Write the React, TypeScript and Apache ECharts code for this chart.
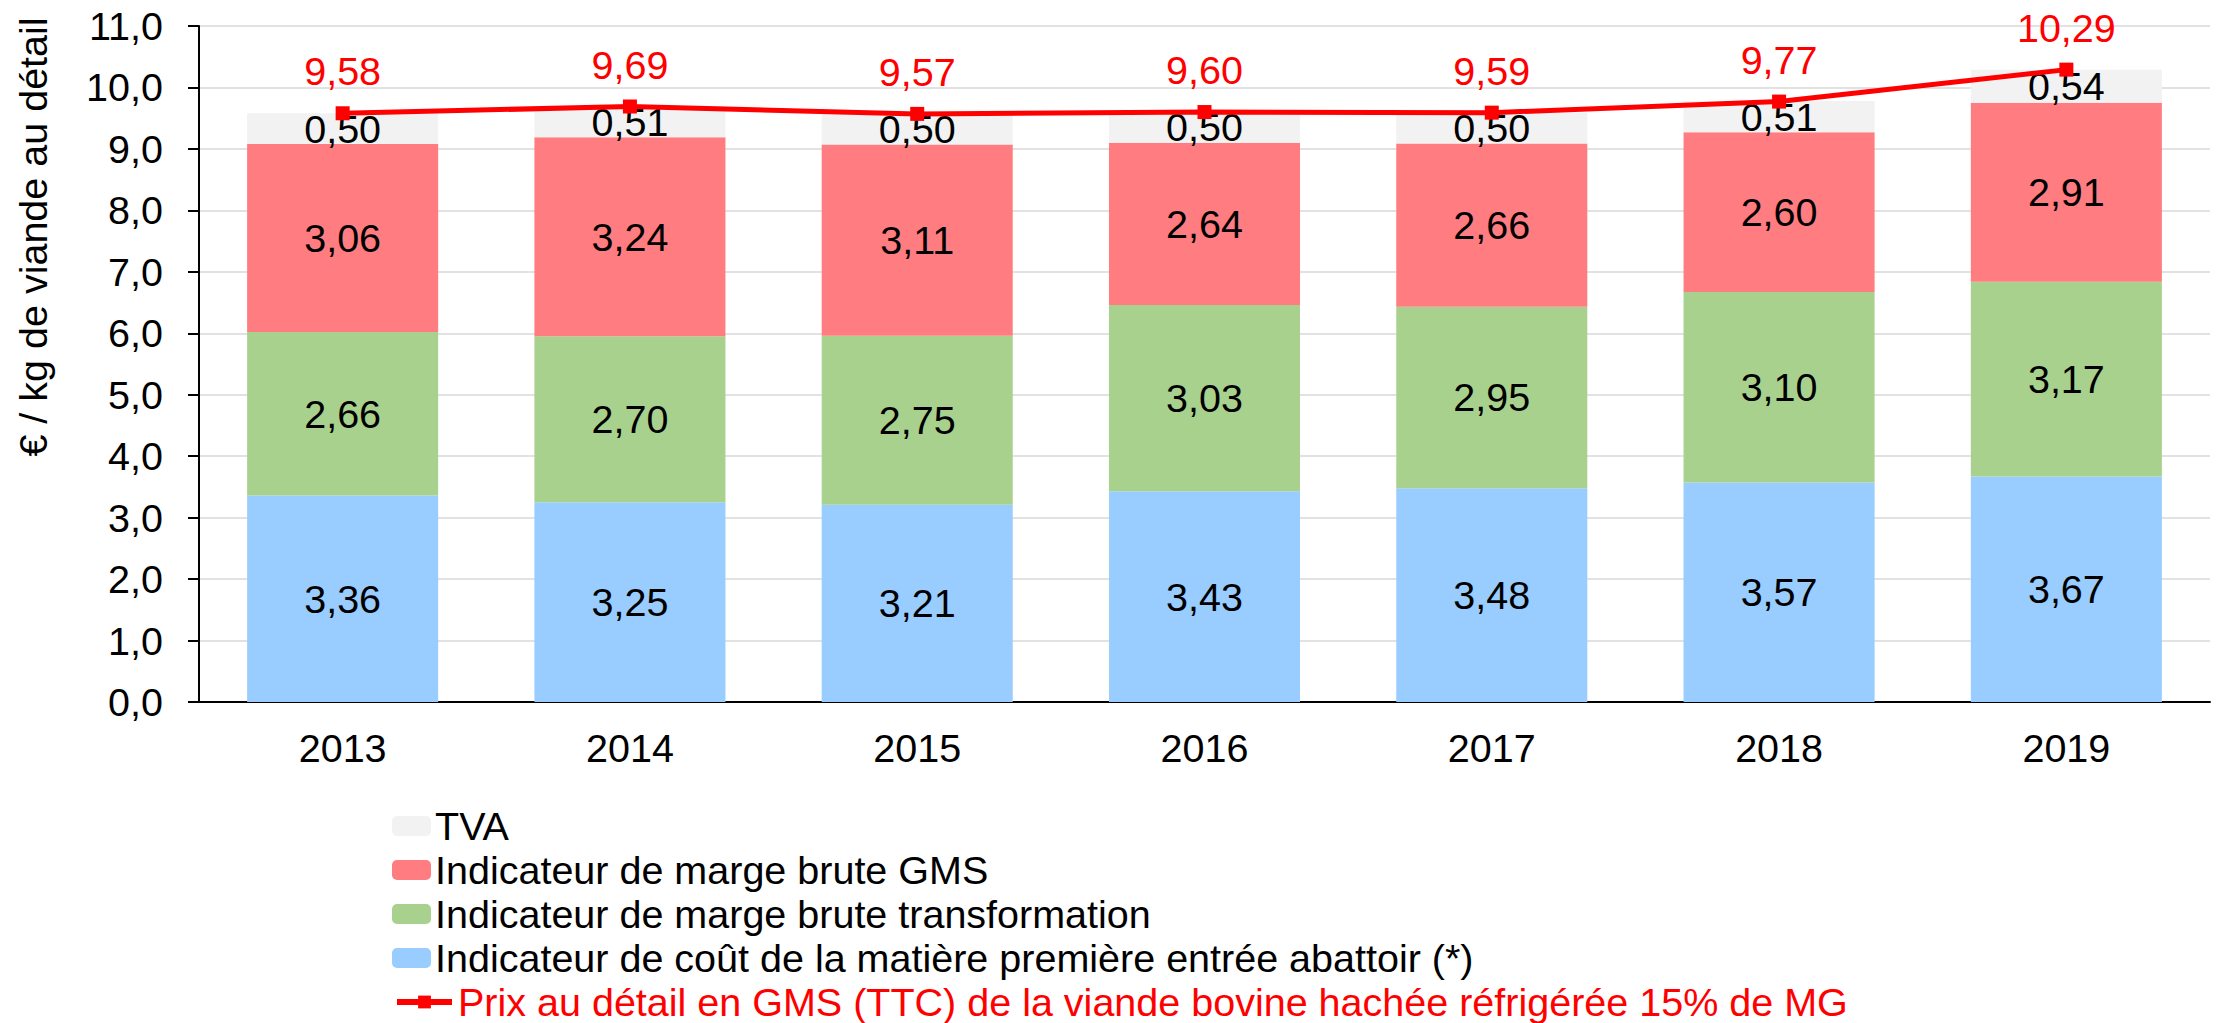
import React, { useEffect, useRef } from "react";
import * as echarts from "echarts";

const years = ["2013", "2014", "2015", "2016", "2017", "2018", "2019"];
const coutMatiere = [3.36, 3.25, 3.21, 3.43, 3.48, 3.57, 3.67];
const margeTransformation = [2.66, 2.7, 2.75, 3.03, 2.95, 3.1, 3.17];
const margeGMS = [3.06, 3.24, 3.11, 2.64, 2.66, 2.6, 2.91];
const tva = [0.5, 0.51, 0.5, 0.5, 0.5, 0.51, 0.54];
const prixDetail = [9.58, 9.69, 9.57, 9.6, 9.59, 9.77, 10.29];

const NAME_TVA = "TVA";
const NAME_GMS = "Indicateur de marge brute GMS";
const NAME_TRANS = "Indicateur de marge brute transformation";
const NAME_COUT = "Indicateur de coût de la matière première entrée abattoir (*)";
const NAME_PRIX = "Prix au détail en GMS (TTC) de la viande bovine hachée réfrigérée 15% de MG";

const FONT = "'Liberation Sans', Arial, Helvetica, sans-serif";
const FS = 39.5;

const fmt2 = (v: number) => v.toFixed(2).replace(".", ",");
const fmt1 = (v: number) => v.toFixed(1).replace(".", ",");

export default function App() {
  const ref = useRef<HTMLDivElement>(null);
  useEffect(() => {
    if (!ref.current) return;
    const chart = echarts.init(ref.current, null, { renderer: "svg" });
    const barLabel = {
      show: true,
      position: "inside",
      color: "#000000",
      fontSize: FS,
      fontFamily: FONT,
      formatter: (p: any) => fmt2(p.value),
    };
    const mkBar = (name: string, data: number[], color: string) => ({
      name,
      type: "bar",
      stack: "total",
      data,
      barWidth: "66.5%",
      itemStyle: { color },
      label: barLabel,
      z: 2,
    });
    chart.setOption({
      animation: false,
      textStyle: { fontFamily: FONT },
      grid: { left: 199, right: 12, top: 26, bottom: 321, containLabel: false },
      legend: [
        {
          orient: "vertical",
          left: 392,
          top: 804,
          padding: 0,
          itemGap: 0,
          itemWidth: 39,
          itemHeight: 20,
          selectedMode: false,
          textStyle: { fontSize: FS, fontFamily: FONT, color: "#000000", lineHeight: 44, padding: [0, 0, 0, -1] },
          data: [NAME_TVA, NAME_GMS, NAME_TRANS, NAME_COUT],
        },
        {
          orient: "vertical",
          left: 394,
          top: 980,
          padding: 0,
          itemGap: 0,
          itemWidth: 55,
          itemHeight: 16,
          selectedMode: false,
          lineStyle: { width: 6, color: "#FF0000" },
          textStyle: { fontSize: FS, fontFamily: FONT, color: "#FF0000", lineHeight: 44, padding: [0, 0, 0, 1] },
          data: [NAME_PRIX],
        },
      ],
      xAxis: {
        type: "category",
        data: years,
        axisLine: { show: true, lineStyle: { color: "#000000", width: 2 } },
        axisTick: { show: false },
        axisLabel: { fontSize: FS, fontFamily: FONT, color: "#000000", margin: 26 },
        splitLine: { show: false },
      },
      yAxis: {
        type: "value",
        min: 0,
        max: 11,
        interval: 1,
        axisLine: { show: true, lineStyle: { color: "#000000", width: 2 } },
        axisTick: { show: true, length: 11, lineStyle: { color: "#000000", width: 2 } },
        axisLabel: { fontSize: FS, fontFamily: FONT, color: "#000000", margin: 36, formatter: (v: number) => fmt1(v) },
        splitLine: { show: true, lineStyle: { color: "#D9D9D9", width: 1.5 } },
      },
      graphic: [
        {
          type: "text",
          x: 33,
          y: 237,
          rotation: Math.PI / 2,
          style: {
            text: "€ / kg de viande au détail",
            font: `${FS}px ${FONT}`,
            fill: "#000000",
            textAlign: "center",
            textVerticalAlign: "middle",
          },
        },
      ],
      series: [
        mkBar(NAME_COUT, coutMatiere, "#99CCFF"),
        mkBar(NAME_TRANS, margeTransformation, "#A9D18E"),
        mkBar(NAME_GMS, margeGMS, "#FF7C80"),
        mkBar(NAME_TVA, tva, "#F2F2F2"),
        {
          name: NAME_PRIX,
          type: "line",
          data: prixDetail,
          symbol: "rect",
          symbolSize: 14,
          lineStyle: { color: "#FF0000", width: 5 },
          itemStyle: { color: "#FF0000" },
          z: 5,
          label: {
            show: true,
            position: "top",
            distance: 15,
            color: "#FF0000",
            fontSize: FS,
            fontFamily: FONT,
            formatter: (p: any) => fmt2(p.value),
          },
        },
      ],
    });
    return () => chart.dispose();
  }, []);
  return (
    <div
      ref={ref}
      style={{ position: "fixed", left: 0, top: 0, width: 2222, height: 1023, background: "#ffffff" }}
    />
  );
}
